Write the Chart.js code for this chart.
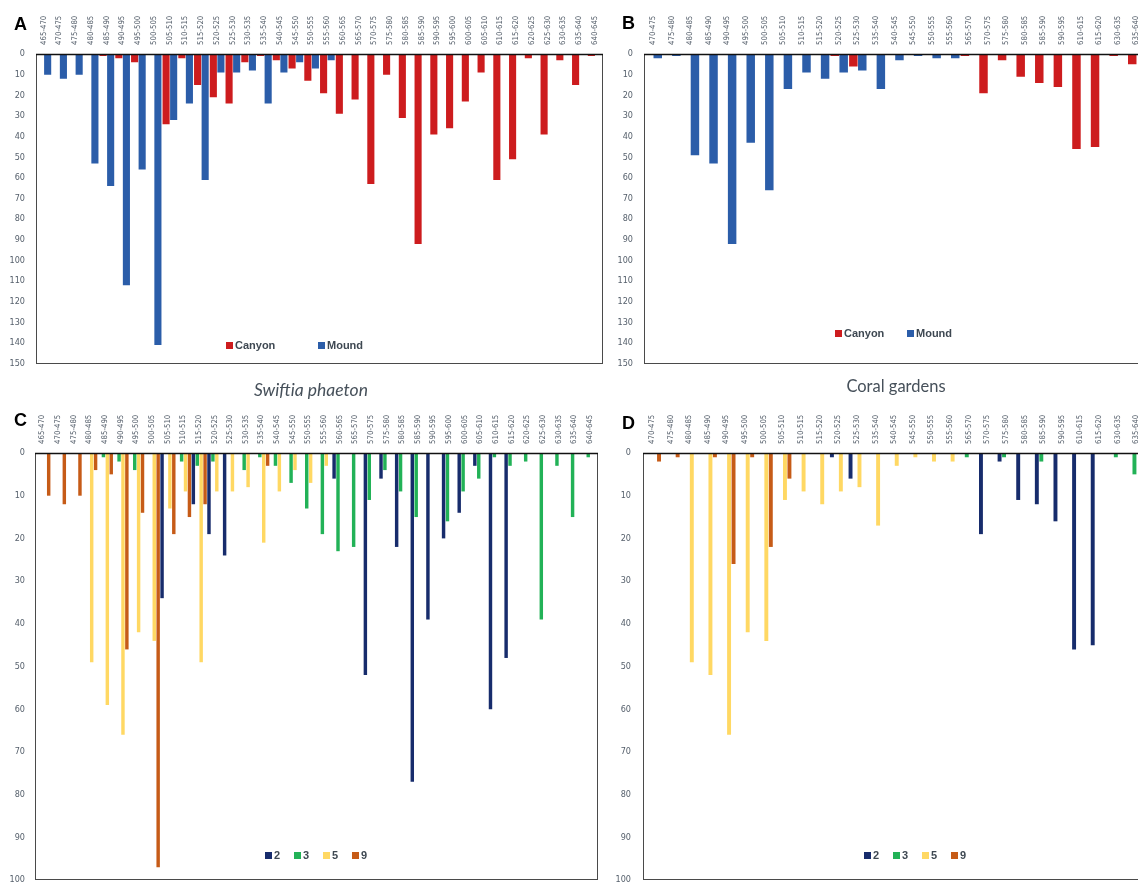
<!DOCTYPE html>
<html>
<head>
<meta charset="utf-8">
<script src="https://cdn.jsdelivr.net/npm/chart.js@4/dist/chart.umd.min.js"></script>
<style>
  html, body { margin: 0; padding: 0; width: 1138px; height: 882px; overflow: hidden; background: #fff; }
  canvas { position: absolute; }
  .letter { position: absolute; font: bold 18px 'Liberation Sans', Arial, sans-serif; line-height: 18px; color: #000; }
  .title { position: absolute; width: 240px; text-align: center; font-family: Lato, 'Open Sans', sans-serif; font-size: 16.5px; line-height: 16px; color: #46505a; }
  .legend { position: absolute; height: 12px; }
  .legend .item { position: absolute; top: 0; white-space: nowrap; font: bold 11px 'Liberation Sans', Arial, sans-serif; line-height: 12px; color: #3e4852; }
  .legend .sw { display: inline-block; width: 7px; height: 7px; margin-right: 2px; vertical-align: 0px; }
</style>
</head>
<body>
<canvas id="cA" width="615" height="380" style="left:0;top:0"></canvas>
<canvas id="cB" width="545" height="380" style="left:615px;top:0"></canvas>
<canvas id="cC" width="615" height="520" style="left:0;top:380px"></canvas>
<canvas id="cD" width="545" height="520" style="left:615px;top:380px"></canvas>

<div class="letter" style="left:14px;top:15px">A</div>
<div class="letter" style="left:622px;top:14px">B</div>
<div class="letter" style="left:14px;top:411px">C</div>
<div class="letter" style="left:622px;top:414px">D</div>

<div class="title" style="left:191px;top:382px;font-style:italic;font-size:17.5px">Swiftia phaeton</div>
<div class="title" style="left:776px;top:378px">Coral gardens</div>

<div id="legA" class="legend" style="left:226px;top:339px"></div>
<div id="legB" class="legend" style="left:835px;top:327px"></div>
<div id="legC" class="legend" style="left:265px;top:849px"></div>
<div id="legD" class="legend" style="left:864px;top:849px"></div>

<script>
// Depth classes (m) on the category axis
const depthBinsAll = ['465-470','470-475','475-480','480-485','485-490','490-495','495-500','500-505',
  '505-510','510-515','515-520','520-525','525-530','530-535','535-540','540-545','545-550','550-555',
  '555-560','560-565','565-570','570-575','575-580','580-585','585-590','590-595','595-600','600-605',
  '605-610','610-615','615-620','620-625','625-630','630-635','635-640','640-645'];
const depthBinsGardens = ['470-475','475-480','480-485','485-490','490-495','495-500','500-505','505-510',
  '510-515','515-520','520-525','525-530','535-540','540-545','545-550','550-555','555-560','565-570',
  '570-575','575-580','580-585','585-590','590-595','610-615','615-620','630-635','635-640'];

// Swiftia phaeton: counts by habitat
const swiftiaCanyon = [0,0,0,0,1,2,4,0,34,2, 15,21,24,4,1,3,7,13,19,29, 22,63,10,31,92,39,36,23,9,61, 51,2,39,3,15,1];
const swiftiaMound  = [10,12,10,53,64,112,56,141,32,24, 61,9,9,8,24,9,4,7,3,0, 0,0,0,0,0,0,0,0,0,0, 0,0,0,0,0,0];

// Coral gardens: counts by habitat
const gardensCanyon = [0,0,0,0,0,0,0,0,0,0, 1,6,0,0,0,0,0,1,19,3, 11,14,16,46,45,1,5];
const gardensMound  = [2,1,49,53,92,43,66,17,9,12, 9,8,17,3,1,2,2,0,0,0, 0,0,0,0,0,0,0];

// Swiftia phaeton: counts by cluster
const swiftiaC2 = [0,0,0,0,0,0,0,0,34,0, 12,19,24,0,0,0,0,0,0,6, 0,52,6,22,77,39,20,14,3,60, 48,0,0,0,0,0];
const swiftiaC3 = [0,0,0,0,1,2,4,0,0,2, 3,2,0,4,1,3,7,13,19,23, 22,11,4,9,15,0,16,9,6,1, 3,2,39,3,15,1];
const swiftiaC5 = [0,0,0,49,59,66,42,44,13,9, 49,9,9,8,21,9,4,7,3,0, 0,0,0,0,0,0,0,0,0,0, 0,0,0,0,0,0];
const swiftiaC9 = [10,12,10,4,5,46,14,97,19,15, 12,0,0,0,3,0,0,0,0,0, 0,0,0,0,0,0,0,0,0,0, 0,0,0,0,0,0];

// Coral gardens: counts by cluster
const gardensC2 = [0,0,0,0,0,0,0,0,0,0, 1,6,0,0,0,0,0,0,19,2, 11,12,16,46,45,0,0];
const gardensC3 = [0,0,0,0,0,0,0,0,0,0, 0,0,0,0,0,0,0,1,0,1, 0,2,0,0,0,1,5];
const gardensC5 = [0,0,49,52,66,42,44,11,9,12, 9,8,17,3,1,2,2,0,0,0, 0,0,0,0,0,0,0];
const gardensC9 = [2,1,0,1,26,1,22,6,0,0, 0,0,0,0,0,0,0,0,0,0, 0,0,0,0,0,0,0];

const habitatNames = ['Canyon', 'Mound'];
const habitatColors = ['#CD1C1E', '#2B5DA9'];
const clusterNames = ['2', '3', '5', '9'];
const clusterColors = ['#172C6C', '#22B257', '#FFD863', '#C65B17'];

const tickColor = '#56606c';
const tickFont = "'Liberation Sans Narrow', 'DejaVu Sans Condensed', 'Liberation Sans', Arial, sans-serif";

// Box around the plot area, darker along the category axis
const framePlugin = {
  id: 'frame',
  afterDraw(chart) {
    const { ctx, chartArea: a } = chart;
    ctx.save();
    ctx.strokeStyle = '#4a4a4a';
    ctx.lineWidth = 1;
    ctx.strokeRect(Math.round(a.left) + 0.5, Math.round(a.top) + 0.5,
                   Math.round(a.right - a.left) - 1, Math.round(a.bottom - a.top) - 1);
    ctx.strokeStyle = '#111';
    ctx.lineWidth = 1.6;
    ctx.beginPath();
    ctx.moveTo(a.left, Math.round(a.top) + 0.5);
    ctx.lineTo(a.right, Math.round(a.top) + 0.5);
    ctx.stroke();
    ctx.restore();
  }
};

function panel(id, labels, names, colors, series, yMax, g) {
  return new Chart(document.getElementById(id), {
    type: 'bar',
    data: {
      labels: labels,
      datasets: series.map((d, i) => ({
        label: names[i], data: d, backgroundColor: colors[i], borderWidth: 0,
        categoryPercentage: g.cat, barPercentage: g.bar
      }))
    },
    options: {
      responsive: false, animation: false, devicePixelRatio: 1,
      layout: { padding: { left: 0, top: 0, right: g.padR, bottom: g.padB } },
      plugins: { legend: { display: false }, tooltip: { enabled: false } },
      scales: {
        x: {
          position: 'top',
          grid: { display: false, drawTicks: false },
          border: { display: false },
          ticks: { autoSkip: false, minRotation: 90, maxRotation: 90, padding: 9, labelOffset: 9,
                   color: tickColor, font: { family: tickFont, size: 7.8 } },
          afterFit: s => { s.height = g.xH; }
        },
        y: {
          reverse: true, min: 0, max: yMax,
          grid: { display: false, drawTicks: false },
          border: { display: false },
          ticks: { stepSize: 10, padding: g.yPad, color: tickColor, font: { family: tickFont, size: 9 } },
          afterFit: s => { s.width = g.yW; }
        }
      }
    },
    plugins: [framePlugin]
  });
}

panel('cA', depthBinsAll, habitatNames, habitatColors, [swiftiaCanyon, swiftiaMound], 150,
      { yW: 36, xH: 54, padR: 12, padB: 11, yPad: 11, cat: 0.96, bar: 0.94 });
panel('cB', depthBinsGardens, habitatNames, habitatColors, [gardensCanyon, gardensMound], 150,
      { yW: 29, xH: 54, padR: 14, padB: 11, yPad: 11, cat: 0.96, bar: 0.95 });
panel('cC', depthBinsAll, clusterNames, clusterColors, [swiftiaC2, swiftiaC3, swiftiaC5, swiftiaC9], 100,
      { yW: 35, xH: 73, padR: 17, padB: 20, yPad: 10, cat: 1.0, bar: 0.88 });
panel('cD', depthBinsGardens, clusterNames, clusterColors, [gardensC2, gardensC3, gardensC5, gardensC9], 100,
      { yW: 28, xH: 73, padR: 14, padB: 20, yPad: 12, cat: 0.96, bar: 0.88 });

// Legends placed inside the plot areas
function legend(id, names, colors, step) {
  const box = document.getElementById(id);
  names.forEach((n, i) => {
    const it = document.createElement('div');
    it.className = 'item';
    it.style.left = (i * step) + 'px';
    const sw = document.createElement('span');
    sw.className = 'sw';
    sw.style.background = colors[i];
    it.appendChild(sw);
    it.appendChild(document.createTextNode(n));
    box.appendChild(it);
  });
}
legend('legA', habitatNames, habitatColors, 92);
legend('legB', habitatNames, habitatColors, 72);
legend('legC', clusterNames, clusterColors, 29);
legend('legD', clusterNames, clusterColors, 29);
</script>
</body>
</html>
